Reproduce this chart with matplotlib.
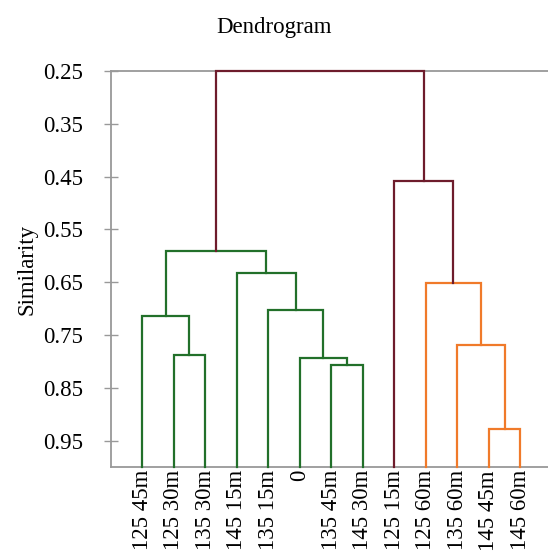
import matplotlib
matplotlib.use("Agg")
import matplotlib.pyplot as plt

plt.rcParams['font.family'] = ['Liberation Serif', 'DejaVu Serif']

# leaf order as drawn
leaves = ["125 45m", "125 30m", "135 30m", "145 15m", "135 15m", "0",
          "135 45m", "145 30m", "125 15m", "125 60m", "135 60m", "145 45m", "145 60m"]

# merges: (left id, right id, similarity, group); ids 0-12 are leaves, new clusters get 13, 14, ...
merge_left = [1, 0, 6, 5, 4, 3, 14, 11, 10, 9, 8, 19]
merge_right = [2, 13, 7, 15, 16, 17, 18, 12, 20, 21, 22, 23]
merge_height = [0.788, 0.713, 0.807, 0.7925, 0.702, 0.633, 0.590,
                0.927, 0.768, 0.651, 0.459, 0.25]
merge_group = ["g", "g", "g", "g", "g", "g", "g", "o", "o", "o", "r", "r"]

colors = {"g": "#22702a", "o": "#f07a2a", "r": "#6e1c2c"}
y_bottom, y_top = 1.0, 0.25
yticks = [0.25, 0.35, 0.45, 0.55, 0.65, 0.75, 0.85, 0.95]

fig = plt.figure(figsize=(5.48, 5.53), dpi=100)
ax = fig.add_axes([0.202, 0.155, 0.805, 0.717])

xpos = {i: float(i) for i in range(len(leaves))}
hpos = {i: y_bottom for i in range(len(leaves))}
n = len(leaves)
for k in range(len(merge_left)):
    a, b, h = merge_left[k], merge_right[k], merge_height[k]
    xa, xb = xpos[a], xpos[b]
    ax.plot([xa, xa, xb, xb], [hpos[a], h, h, hpos[b]],
            color=colors[merge_group[k]], lw=1.6, clip_on=False, zorder=3,
            solid_joinstyle='miter')
    xpos[n + k] = (xa + xb) / 2
    hpos[n + k] = h

ax.set_xlim(-1, n)
ax.set_ylim(y_bottom, y_top)
ax.set_yticks(yticks)
ax.set_yticklabels([f"{v:.2f}" for v in yticks])
ax.set_xticks(range(n))
ax.set_xticklabels(leaves, rotation=90)

for s in ["left", "top", "bottom"]:
    ax.spines[s].set_color("#999999")
    ax.spines[s].set_linewidth(1.3)
ax.spines["right"].set_visible(False)

ax.tick_params(axis="y", direction="inout", length=10, width=1, color="#999999",
               pad=15, labelsize=16.5)
ax.tick_params(axis="x", length=0, pad=2, labelsize=16.5)
ax.set_ylabel("Similarity", fontsize=16.5, labelpad=4)

fig.text(0.5, 1 - 28 / 553, "Dendrogram", ha="center", va="center", fontsize=16.5)

fig.savefig("out.png", dpi=100)
